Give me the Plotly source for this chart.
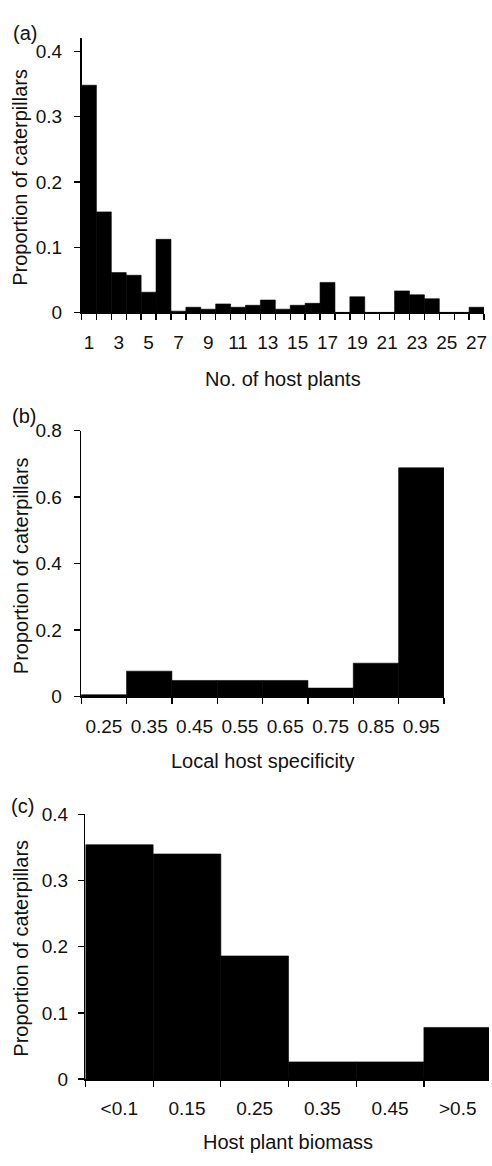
import plotly.graph_objects as go

# ---------------- data ----------------
# (a) number of host plants
host_counts = list(range(1, 28))
host_prop = [0.348, 0.154, 0.061, 0.057, 0.031, 0.112, 0.002, 0.008, 0.005,
             0.013, 0.008, 0.011, 0.019, 0.005, 0.011, 0.014, 0.046, 0.0,
             0.024, 0.0, 0.0, 0.033, 0.027, 0.021, 0.0, 0.0, 0.008]
host_tick_vals = list(range(1, 28, 2))
host_tick_text = [str(v) for v in host_tick_vals]

# (b) local host specificity
spec_bins = [0.25, 0.35, 0.45, 0.55, 0.65, 0.75, 0.85, 0.95]
spec_prop = [0.005, 0.076, 0.048, 0.048, 0.048, 0.025, 0.100, 0.688]
spec_tick_text = ["0.25", "0.35", "0.45", "0.55", "0.65", "0.75", "0.85", "0.95"]

# (c) host plant biomass
biomass_labels = ["<0.1", "0.15", "0.25", "0.35", "0.45", ">0.5"]
biomass_prop = [0.354, 0.340, 0.186, 0.026, 0.026, 0.078]

ya_ticks = [0, 0.1, 0.2, 0.3, 0.4]
ya_text = ["0", "0.1", "0.2", "0.3", "0.4"]
yb_ticks = [0, 0.2, 0.4, 0.6, 0.8]
yb_text = ["0", "0.2", "0.4", "0.6", "0.8"]
yc_ticks = [0, 0.1, 0.2, 0.3, 0.4]
yc_text = ["0", "0.1", "0.2", "0.3", "0.4"]

# ---------------- layout helpers ----------------
W, H = 492, 1166
FONT = "Liberation Sans, Arial, Helvetica, sans-serif"
TXT = "#111111"


def px_x(v):
    return v / W


def px_y(v):
    return (H - v) / H


fig = go.Figure()

bar_style = dict(marker=dict(color="black", line=dict(color="black", width=0.6)),
                 hoverinfo="skip", showlegend=False)

fig.add_trace(go.Bar(x=host_counts, y=host_prop, width=1, xaxis="x", yaxis="y", **bar_style))
fig.add_trace(go.Bar(x=spec_bins, y=spec_prop, width=0.1, xaxis="x2", yaxis="y2", **bar_style))
biomass_pos = list(range(1, len(biomass_labels) + 1))
fig.add_trace(go.Bar(x=biomass_pos, y=biomass_prop, width=1, xaxis="x3", yaxis="y3", **bar_style))

tick_font = dict(family=FONT, size=19, color=TXT)


def xaxis(domain, rng, tickvals, ticktext, edges, anchor):
    return dict(domain=domain, range=rng, anchor=anchor, showgrid=False, zeroline=False,
                showline=True, linecolor="black", linewidth=1.5,
                tickmode="array", tickvals=tickvals, ticktext=ticktext,
                ticks="outside", ticklen=12, tickcolor="rgba(0,0,0,0)",
                tickfont=tick_font,
                minor=dict(tickmode="array", tickvals=edges, ticks="outside",
                           ticklen=6, tickwidth=1.3, tickcolor="black", showgrid=False))


def yaxis(domain, rng, tickvals, ticktext, anchor, standoff):
    return dict(domain=domain, range=rng, anchor=anchor, showgrid=False, zeroline=False,
                showline=True, linecolor="black", linewidth=1.5,
                tickmode="array", tickvals=tickvals, ticktext=ticktext,
                ticks="outside", ticklen=6, tickwidth=1.3, tickcolor="black",
                ticklabelstandoff=standoff, tickfont=tick_font)


host_edges = [c - 0.5 for c in host_counts] + [host_counts[-1] + 0.5]
spec_edges = [round(b - 0.05, 2) for b in spec_bins] + [round(spec_bins[-1] + 0.05, 2)]
biomass_edges = [p - 0.5 for p in biomass_pos] + [biomass_pos[-1] + 0.5]

# panel (a)
a_x0, a_x1, a_y0, a_y1 = 82, 487, 308, 28.7
# panel (b)
b_x0, b_x1, b_y0, b_y1 = 81.7, 446.7, 699, 428.3
# panel (c)
c_x0, c_bw, c_y0, c_y1 = 86, 68.1, 1088.7, 819

fig.update_layout(
    width=W, height=H,
    margin=dict(l=0, r=0, t=0, b=0),
    paper_bgcolor="white", plot_bgcolor="white",
    bargap=0,
    font=dict(family=FONT, color=TXT),
    xaxis=xaxis([px_x(a_x0), px_x(a_x1)], [0.5, 27.5], host_tick_vals, host_tick_text, host_edges, "y"),
    yaxis=yaxis([px_y(a_y0), px_y(a_y1)], [0, 0.42], ya_ticks, ya_text, "x", 8),
    xaxis2=xaxis([px_x(b_x0), px_x(b_x1)], [0.2, 1.0], spec_bins, spec_tick_text, spec_edges, "y2"),
    yaxis2=yaxis([px_y(b_y0), px_y(b_y1)], [0, 0.8], yb_ticks, yb_text, "x2", 8),
    xaxis3=xaxis([px_x(c_x0), 1.0], [0.5, 0.5 + (W - c_x0) / c_bw], biomass_pos, biomass_labels, biomass_edges, "y3"),
    yaxis3=yaxis([px_y(c_y0), px_y(c_y1)], [0, 0.4], yc_ticks, yc_text, "x3", 6),
)

title_font = dict(family=FONT, size=20, color=TXT)
annotations = [
    # x titles
    dict(text="No. of host plants", x=px_x((a_x0 + a_x1) / 2), y=px_y(376)),
    dict(text="Local host specificity", x=px_x((b_x0 + b_x1) / 2), y=px_y(765)),
    dict(text="Host plant biomass", x=px_x(290), y=px_y(1153)),
    # y titles
    dict(text="Proportion of caterpillars", x=px_x(20), y=px_y(170), textangle=-90),
    dict(text="Proportion of caterpillars", x=px_x(20.5), y=px_y(566), textangle=-90),
    dict(text="Proportion of caterpillars", x=px_x(21), y=px_y(955), textangle=-90),
    # panel letters
    dict(text="(a)", x=px_x(25), y=px_y(23)),
    dict(text="(b)", x=px_x(24), y=px_y(413)),
    dict(text="(c)", x=px_x(23), y=px_y(811)),
]
for ann in annotations:
    ann.update(xref="paper", yref="paper", showarrow=False, xanchor="center",
               yanchor="middle", font=title_font)
fig.update_layout(annotations=annotations)

fig.write_html(
    "out.html",
    config={"displayModeBar": False, "staticPlot": True},
    post_script="document.body.style.margin='0';document.body.style.padding='0';",
)
